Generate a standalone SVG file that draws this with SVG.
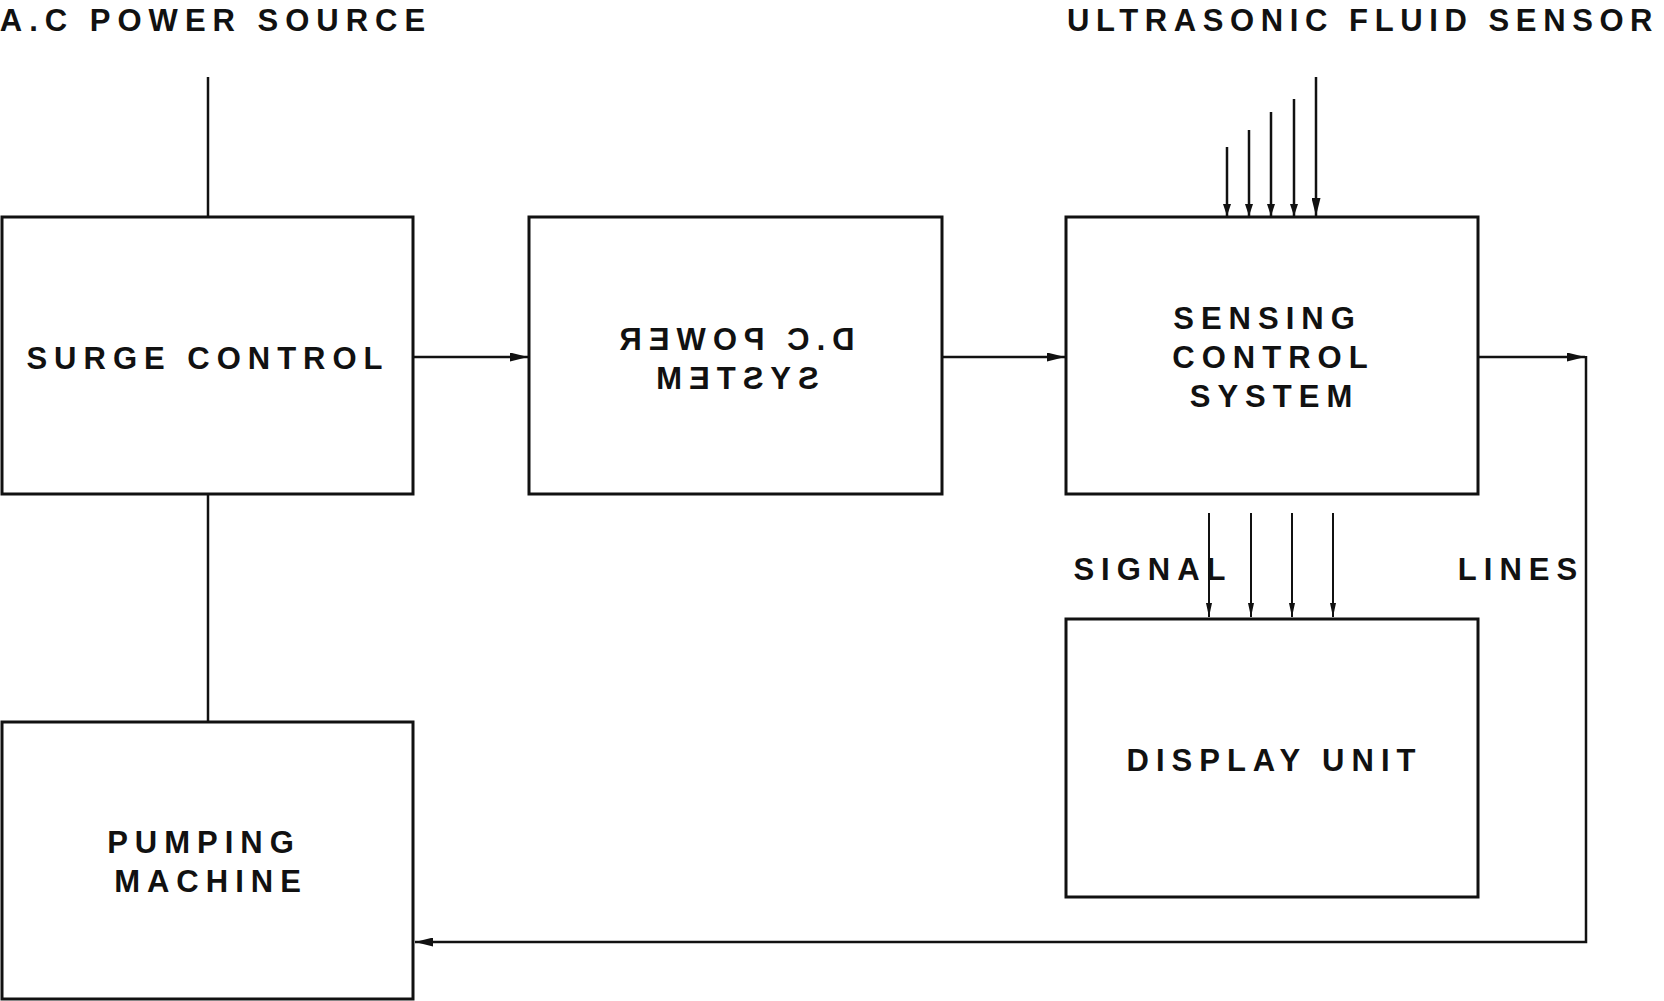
<svg xmlns="http://www.w3.org/2000/svg" width="1664" height="1001" viewBox="0 0 1664 1001">
<style>
.box{fill:#fff;stroke:#111;stroke-width:3}
.ln{fill:none;stroke:#111;stroke-width:2.5}
.thin{fill:none;stroke:#111;stroke-width:2}
text{font-family:"Liberation Sans",Arial,sans-serif;font-weight:bold;font-size:31px;letter-spacing:7px;fill:#111;text-anchor:middle}
</style>
<defs>
<marker id="aBig" markerUnits="userSpaceOnUse" markerWidth="18" markerHeight="9" refX="18" refY="4.5" orient="auto"><path d="M0,0 L18,4.5 L0,9 z" fill="#111"/></marker>
<marker id="aMid" markerUnits="userSpaceOnUse" markerWidth="12" markerHeight="8" refX="12" refY="4" orient="auto"><path d="M0,0 L12,4 L0,8 z" fill="#111"/></marker>
<marker id="aSm" markerUnits="userSpaceOnUse" markerWidth="14" markerHeight="6" refX="14" refY="3" orient="auto"><path d="M0,0 L14,3 L0,6 z" fill="#111"/></marker>
</defs>
<rect width="1664" height="1001" fill="#fff"/>
<g id="labels">
<text x="216" y="31">A.C POWER SOURCE</text>
<text x="1067" y="31" style="text-anchor:start;letter-spacing:6.6px">ULTRASONIC FLUID SENSOR</text>
<text x="1153" y="580">SIGNAL</text>
<text x="1521" y="580">LINES</text>
</g>
<g id="connectors">
<line class="ln" x1="208" y1="77" x2="208" y2="217"/>
<line class="ln" x1="208" y1="494" x2="208" y2="722"/>
<line class="ln" x1="413" y1="357" x2="528" y2="357" marker-end="url(#aBig)"/>
<line class="ln" x1="942" y1="357" x2="1065" y2="357" marker-end="url(#aBig)"/>
<line class="ln" x1="1478" y1="357" x2="1585" y2="357" marker-end="url(#aBig)"/>
<polyline class="ln" points="1586,356 1586,942 415,942" marker-end="url(#aBig)"/>
<line class="ln" x1="1227" y1="147" x2="1227" y2="216" marker-end="url(#aMid)"/>
<line class="ln" x1="1249" y1="130" x2="1249" y2="216" marker-end="url(#aMid)"/>
<line class="ln" x1="1271" y1="112" x2="1271" y2="216" marker-end="url(#aMid)"/>
<line class="ln" x1="1294" y1="99" x2="1294" y2="216" marker-end="url(#aMid)"/>
<line class="ln" x1="1316" y1="77" x2="1316" y2="216" marker-end="url(#aBig)"/>
<line class="thin" x1="1209" y1="513" x2="1209" y2="617" marker-end="url(#aSm)"/>
<line class="thin" x1="1251" y1="513" x2="1251" y2="617" marker-end="url(#aSm)"/>
<line class="thin" x1="1292" y1="513" x2="1292" y2="617" marker-end="url(#aSm)"/>
<line class="thin" x1="1333" y1="513" x2="1333" y2="617" marker-end="url(#aSm)"/>
</g>
<g id="surge">
<rect class="box" x="2" y="217" width="411" height="277"/>
<text x="208" y="369">SURGE CONTROL</text>
</g>
<g id="dcpower">
<rect class="box" x="529" y="217" width="413" height="277"/>
<g transform="matrix(-1 0 0 1 1474 0)">
<text x="740.5" y="350">D.C POWER</text>
<text x="740" y="389">SYSTEM</text>
</g>
</g>
<g id="sensing">
<rect class="box" x="1066" y="217" width="412" height="277"/>
<text x="1267.5" y="329">SENSING</text>
<text x="1273.5" y="368">CONTROL</text>
<text x="1274.5" y="407">SYSTEM</text>
</g>
<g id="display">
<rect class="box" x="1066" y="619" width="412" height="278"/>
<text x="1274.5" y="771">DISPLAY UNIT</text>
</g>
<g id="pumping">
<rect class="box" x="2" y="722" width="411" height="277"/>
<text x="204" y="853">PUMPING</text>
<text x="211" y="892">MACHINE</text>
</g>
</svg>
